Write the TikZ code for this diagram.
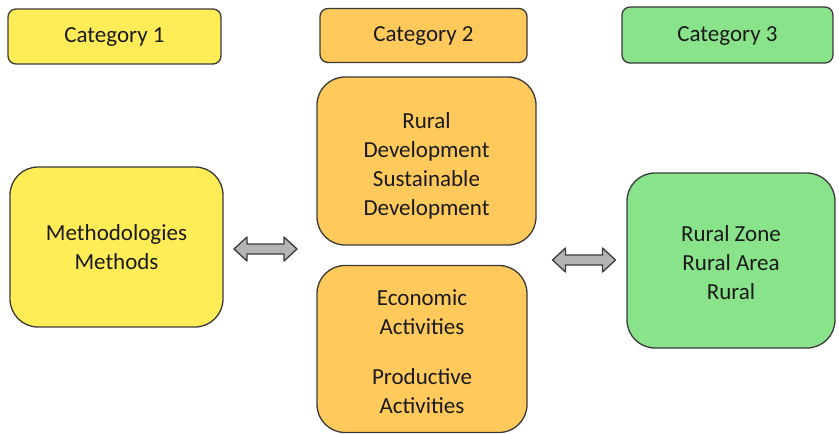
\documentclass[tikz,border=0pt]{standalone}
\usepackage{fontspec}
\setmainfont{Carlito}
\definecolor{cyel}{HTML}{FFEC57}
\definecolor{corg}{HTML}{FFC95C}
\definecolor{cgrn}{HTML}{89E38A}
\definecolor{cbrd}{HTML}{3A3A3A}
\definecolor{carr}{HTML}{B4B4B4}
\definecolor{ctxt}{HTML}{1A1A1A}
\begin{document}
\begin{tikzpicture}[x=1pt,y=-1pt,
  font=\fontsize{23}{29}\selectfont,
  box/.style={draw=cbrd, line width=1.3pt, rounded corners=#1, inner sep=0pt},
  lbl/.style={align=center, inner sep=0pt, text=ctxt},
  arrst/.style={draw=cbrd, fill=carr, line width=1.3pt, line join=round}]
\useasboundingbox (0,0) rectangle (839,434);
% headers
\node[box=8pt, fill=cyel, minimum width=213pt, minimum height=55pt] (c1) at (114.5,36.5) {};
\node[lbl] (c1t) at (114.5,37.5) {Category 1};
\node[box=8pt, fill=corg, minimum width=207pt, minimum height=54pt] (c2) at (423.5,35.5) {};
\node[lbl] (c2t) at (423.5,36.5) {Category 2};
\node[box=8pt, fill=cgrn, minimum width=211pt, minimum height=56pt] (c3) at (727.5,35) {};
\node[lbl] (c3t) at (727.5,36) {Category 3};
% content boxes
\node[box=28pt, fill=cyel, minimum width=213pt, minimum height=160pt] (meth) at (116.5,247) {};
\node[lbl] (metht) at (116.5,247) {Methodologies\\Methods};
\node[box=28pt, fill=corg, minimum width=219pt, minimum height=168pt] (rural) at (426.5,161) {};
\node[lbl] (ruralt) at (426.5,166) {Rural\\Development\\Sustainable\\Development};
\node[box=28pt, fill=corg, minimum width=210pt, minimum height=167pt] (econ) at (422,349) {};
\node[lbl] (econt) at (422,351.5) {Economic\\Activities\\[21pt]Productive\\Activities};
\node[box=28pt, fill=cgrn, minimum width=208pt, minimum height=175pt] (zone) at (731,260.5) {};
\node[lbl] (zonet) at (731,263) {Rural Zone\\Rural Area\\Rural};
% double arrows
\coordinate (a1) at (265.5,249);
\coordinate (a2) at (584,260);
\foreach \a in {a1,a2}
  \draw[arrst] ([xshift=-31.5pt]\a) -- ++(13,-12) -- ++(0,7) -- ++(37,0) -- ++(0,-7)
    -- ++(13,12) -- ++(-13,12) -- ++(0,-7) -- ++(-37,0) -- ++(0,7) -- cycle;
\end{tikzpicture}
\end{document}
